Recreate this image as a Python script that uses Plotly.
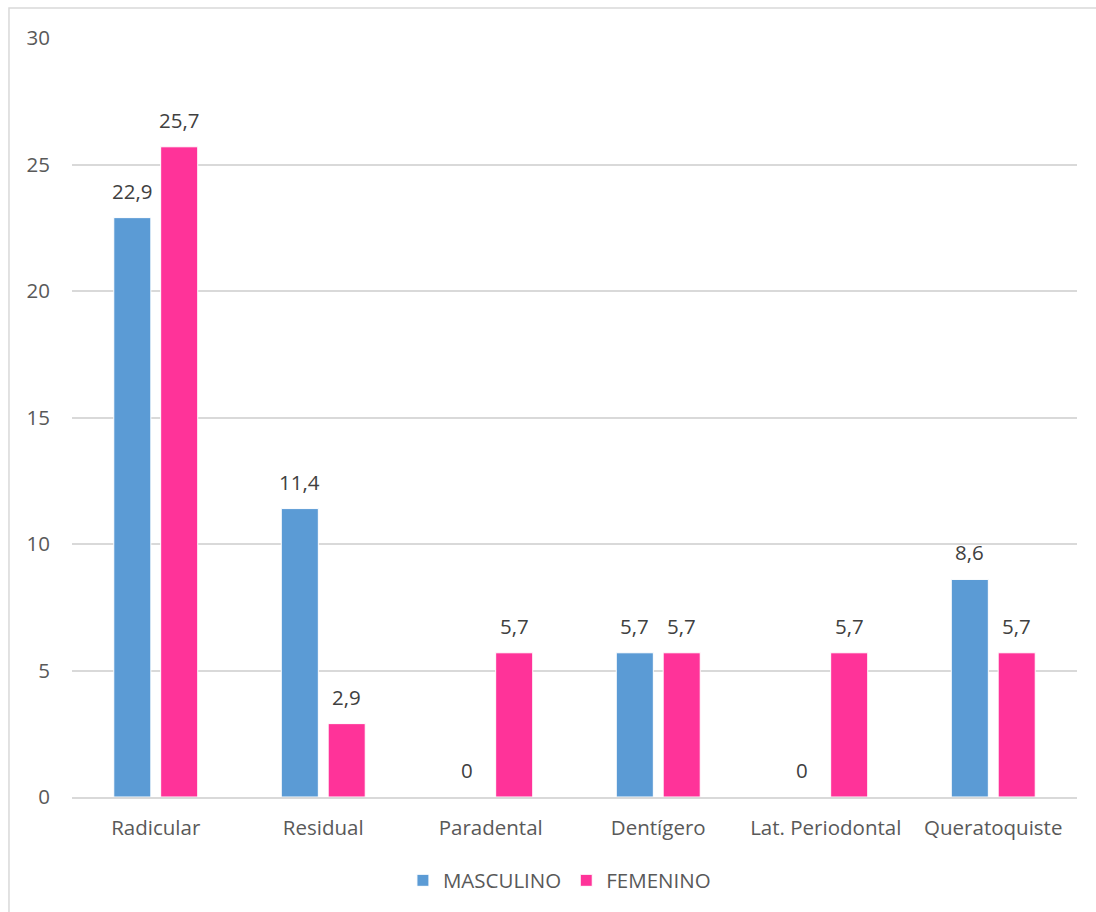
import plotly.graph_objects as go

categories = ["Radicular", "Residual", "Paradental", "Dentígero", "Lat. Periodontal", "Queratoquiste"]
masculino = [22.9, 11.4, 0, 5.7, 0, 8.6]
femenino = [25.7, 2.9, 5.7, 5.7, 5.7, 5.7]
y_ticks = [0, 5, 10, 15, 20, 25, 30]

FONT = "Open Sans"
SIZE = 20.5
TEXT = "#404040"
AXIS_TEXT = "#595959"


def fmt(v):
    return f"{v:g}".replace(".", ",")


series = [("MASCULINO", masculino, "#5B9BD5", -23.5),
          ("FEMENINO", femenino, "#FF3399", 23.5)]

fig = go.Figure()
annotations = []
for name, vals, color, dx in series:
    fig.add_trace(go.Bar(
        x=categories, y=vals, name=name,
        marker=dict(color=color, line=dict(color="white", width=1)),
    ))
    # value labels above each bar
    for cat, v in zip(categories, vals):
        annotations.append(dict(
            x=cat, y=v, xref="x", yref="y", text=fmt(v), showarrow=False,
            xshift=dx, yshift=27, yanchor="middle",
            font=dict(family=FONT, size=SIZE, color=TEXT),
        ))

fig.update_layout(
    width=1096, height=912,
    margin=dict(l=72, r=19, t=38, b=115),
    paper_bgcolor="white", plot_bgcolor="white",
    barmode="group", bargap=0.44, bargroupgap=0.21,
    font=dict(family=FONT, size=SIZE, color=AXIS_TEXT),
    showlegend=True,
    legend=dict(orientation="h", x=0.485, xanchor="center", y=-0.11, yanchor="middle",
                font=dict(family=FONT, size=SIZE, color=AXIS_TEXT),
                itemwidth=30, traceorder="normal"),
    xaxis=dict(showgrid=False, showline=True, linecolor="#D9D9D9", linewidth=1.5,
               ticks="", ticklabelstandoff=12,
               tickfont=dict(family=FONT, size=SIZE, color=AXIS_TEXT)),
    yaxis=dict(range=[0, 30], tickvals=y_ticks, showgrid=True, gridcolor="#D9D9D9",
               gridwidth=1.5, zeroline=False, showline=False, ticks="",
               ticklabelstandoff=21,
               tickfont=dict(family=FONT, size=SIZE, color=AXIS_TEXT)),
    annotations=annotations,
    shapes=[dict(type="rect", xref="paper", yref="paper",
                 x0=-0.0627, x1=1.03, y0=-0.16, y1=1.0395,
                 line=dict(color="#D9D9D9", width=1.5), layer="below")],
)

fig.write_html("out.html")
